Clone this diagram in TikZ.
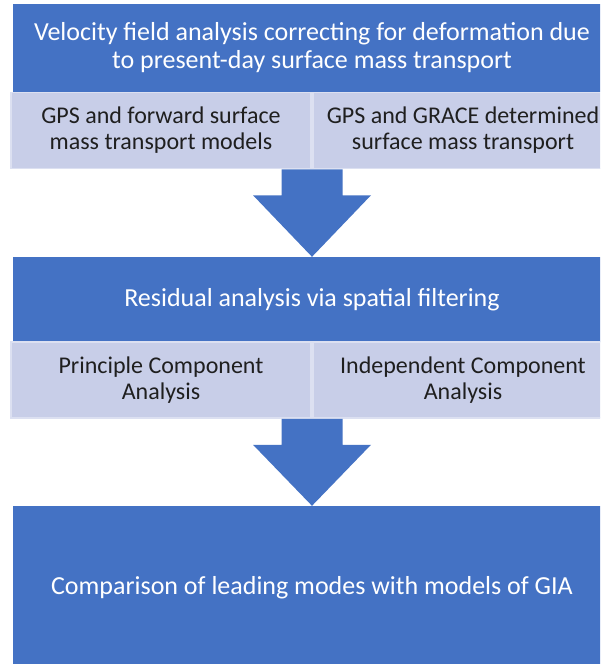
\documentclass[tikz,border=0pt]{standalone}
\usepackage{fontspec}
\setmainfont{Carlito}
\usepackage{tikz}
\usetikzlibrary{calc}

\definecolor{dblue}{HTML}{4472C4}
\definecolor{lblue}{HTML}{C8CEE8}
\definecolor{edgeblue}{HTML}{DCE0F1}

\begin{document}
\begin{tikzpicture}[x=1pt,y=-1pt]
						\tikzstyle{mainbox}=[fill=dblue,text=white,minimum width=598pt,inner sep=0pt,align=center,font=\fontsize{26}{28}\selectfont]
						\tikzstyle{subbox}=[fill=lblue,draw=edgeblue,line width=1.5pt,text=black!88,minimum width=300pt,minimum height=76pt,inner sep=0pt,align=center,font=\fontsize{24}{26}\selectfont]
						\useasboundingbox (0,0) rectangle (600,664);
						\clip (0,0) rectangle (600,664);
						\fill[white] (0,0) rectangle (600,664);
						% first stage
						\node[mainbox,minimum height=88pt] (velocity) at (312,48) {Velocity field analysis correcting for deformation due\\to present-day surface mass transport};
						\node[subbox] (gpsmodels) at (161,130.5) {GPS and forward surface\\mass transport models};
						\node[subbox] (gpsgrace) at (463,130.5) {GPS and GRACE determined\\surface mass transport};
						% second stage
						\node[mainbox,minimum height=85pt] (residual) at (312,299.5) {Residual analysis via spatial filtering};
						\node[subbox] (pca) at (161,380) {Principle Component\\Analysis};
						\node[subbox] (ica) at (463,380) {Independent Component\\Analysis};
						% last stage
						\node[mainbox,minimum height=164pt] (comparison) at (312,588) {Comparison of leading modes with models of GIA};
						% block arrows between the stages
						\fill[dblue] let \p1=(gpsmodels.south east), \p2=(residual.north) in
							(\x2-30.5pt,\y1) -- ++(61pt,0) -- ++(0,-26pt) -- ++(28.5pt,0) -- (\x2,\y2)
							-- (\x2-59pt,\y1-26pt) -- (\x2-30.5pt,\y1-26pt) -- cycle;
						\fill[dblue] let \p1=(pca.south east), \p2=(comparison.north) in
							(\x2-30.5pt,\y1) -- ++(61pt,0) -- ++(0,-26pt) -- ++(28.5pt,0) -- (\x2,\y2)
							-- (\x2-59pt,\y1-26pt) -- (\x2-30.5pt,\y1-26pt) -- cycle;
						\end{tikzpicture}
\end{document}
